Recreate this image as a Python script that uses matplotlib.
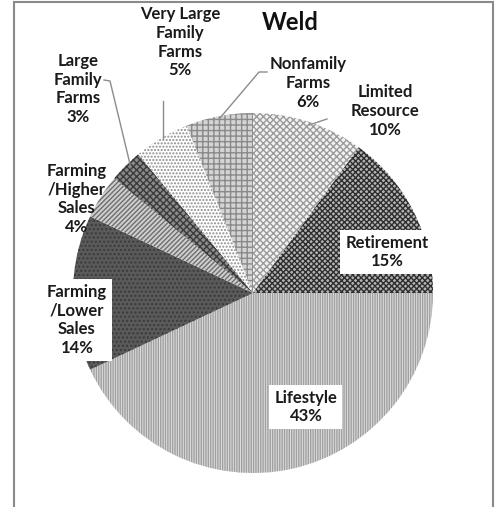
import matplotlib
matplotlib.use("Agg")
import matplotlib.pyplot as plt
from matplotlib.patches import Rectangle

plt.rcParams['font.family'] = ['Lato', 'DejaVu Sans']
plt.rcParams['hatch.linewidth'] = 1.0

# slices, clockwise from 12 o'clock
names = ["Limited\nResource", "Retirement", "Lifestyle", "Farming\n/Lower\nSales",
         "Farming\n/Higher\nSales", "Large\nFamily\nFarms", "Very Large\nFamily\nFarms",
         "Nonfamily\nFarms"]
pcts = [10, 15, 43, 14, 4, 3, 5, 6]

# grey fill patterns (face, hatch colour, hatch)
faces = ["#f2f2f2", "#b4b4b4", "#dedede", "#5a5a5a", "#cfcfcf", "#8a8a8a", "#ffffff", "#d4d4d4"]
hcols = ["#9a9a9a", "#2e2e2e", "#a0a0a0", "#3a3a3a", "#6e6e6e", "#3a3a3a", "#8c8c8c", "#8a8a8a"]
hatches = ["xxxxx", "xxxxxx", "|||||||", "....", "///////", "xxxxx", ".....", "+++"]

# label placement (data coords, pie radius 1) and whether a white box sits behind it
lab_xy = [(0.733, 1.011), (0.744, 0.228), (0.294, -0.633), (-0.978, -0.15),
          (-0.978, 0.522), (-0.972, 1.133), (-0.406, 1.394), (0.306, 1.167)]
boxed = [False, True, True, True, False, False, False, False]

fig = plt.figure(figsize=(5.0, 5.07), dpi=100)
ax = fig.add_axes([73 / 500, 34 / 507, 360 / 500, 360 / 507])

wedges, _ = ax.pie(pcts, startangle=90, counterclock=False, radius=1.0,
                   wedgeprops=dict(linewidth=0))
for w, fc, hc, h in zip(wedges, faces, hcols, hatches):
    w.set_facecolor(fc)
    w.set_edgecolor(hc)
    w.set_hatch(h)
    w.set_linewidth(0)

ax.set_xlim(-1, 1)
ax.set_ylim(-1, 1)
ax.set_aspect('equal')
ax.axis('off')

for name, p, (x, y), b in zip(names, pcts, lab_xy, boxed):
    kw = {}
    if b:
        kw['bbox'] = dict(boxstyle='square,pad=0.3', facecolor='white', edgecolor='none')
    ax.text(x, y, f"{name}\n{p}%", ha='center', va='center', fontsize=12,
            fontweight='bold', linespacing=1.22, color='#1a1a1a', clip_on=False, **kw)

# leader lines
def px(xp, yp):
    return ((xp - 253) / 180, (293 - yp) / 180)

leaders = [
    [(104, 80), (110, 81), (130, 164)],
    [(163, 101), (163, 138)],
    [(267, 72), (259, 72), (220, 118)],
    [(327, 119), (309, 125)],
]
for seg in leaders:
    pts = [px(a, b) for a, b in seg]
    ax.plot([p[0] for p in pts], [p[1] for p in pts], color='#8c8c8c', lw=1.0,
            clip_on=False)

fig.text(290 / 500, 1 - 22 / 507, "Weld", ha='center', va='center', fontsize=17,
         fontweight='bold', color='#111111')

fig.patches.append(Rectangle((14 / 500, -0.05), (493 - 14) / 500, 1.05 - 2 / 507,
                             transform=fig.transFigure, fill=False,
                             edgecolor='#8a8a8a', linewidth=1.5))

fig.savefig("out.png", dpi=100)
